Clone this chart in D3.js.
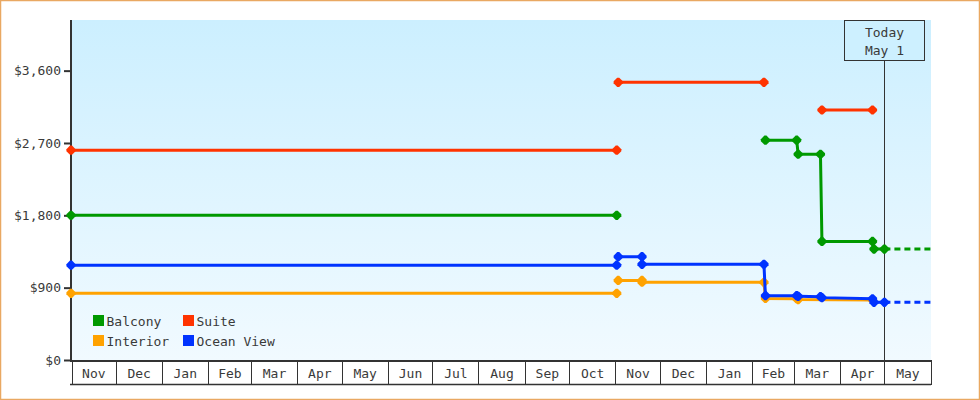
<!DOCTYPE html>
<html>
<head>
<meta charset="utf-8">
<script src="https://cdn.jsdelivr.net/npm/d3@7"></script>
<style>
  html, body { margin: 0; padding: 0; background: #fff; }
  svg { display: block; }
  text { font-family: "DejaVu Sans Mono", monospace; font-size: 13px; fill: #3a3a3a; }
</style>
</head>
<body>
<svg id="chart" width="980" height="400"></svg>
<script>
// ---------- data ----------
const axisStart = "2023-11-01";
const axisEnd   = "2025-06-01";
const todayDate = "2025-05-01";
const todayLabel = ["Today", "May 1"];
const monthLabels = ["Nov","Dec","Jan","Feb","Mar","Apr","May","Jun","Jul","Aug","Sep","Oct",
                     "Nov","Dec","Jan","Feb","Mar","Apr","May"];
const yTicks = [0, 900, 1800, 2700, 3600];
const yMax = 4230;

const seriesNames = ["Balcony", "Interior", "Ocean View", "Suite"];
const seriesColors = ["#009900", "#ffa200", "#0033ff", "#ff3300"];
const legendOrder = ["Balcony", "Interior", "Suite", "Ocean View"];

// [date, price]; a null price breaks the line
const balcony = [
  ["2023-11-01", 1800], ["2024-11-02", 1800], ["2024-11-03", null],
  ["2025-02-10", 2735], ["2025-03-03", 2735], ["2025-03-04", 2560], ["2025-03-19", 2560],
  ["2025-03-20", 1475], ["2025-04-23", 1475], ["2025-04-24", 1380], ["2025-05-01", 1380]
];
const interior = [
  ["2023-11-01", 830], ["2024-11-02", 830], ["2024-11-02", null],
  ["2024-11-03", 990], ["2024-11-19", 990], ["2024-11-19", 968], ["2025-02-09", 966],
  ["2025-02-10", 766], ["2025-03-03", 762], ["2025-03-04", 752], ["2025-04-23", 748]
];
const oceanView = [
  ["2023-11-01", 1180], ["2024-11-02", 1180], ["2024-11-02", null],
  ["2024-11-03", 1285], ["2024-11-19", 1285], ["2024-11-19", 1190], ["2025-02-09", 1190],
  ["2025-02-10", 800], ["2025-03-03", 800], ["2025-03-04", 792], ["2025-03-19", 788],
  ["2025-03-20", 776], ["2025-04-23", 762], ["2025-04-24", 718], ["2025-05-01", 718]
];
const suite = [
  ["2023-11-01", 2610], ["2024-11-02", 2610], ["2024-11-02", null],
  ["2024-11-03", 3455], ["2025-02-09", 3455], ["2025-02-10", null],
  ["2025-03-20", 3110], ["2025-04-23", 3110]
];
const seriesData = [balcony, interior, oceanView, suite];

// projected (dashed) prices after today
const projected = [1380, null, 718, null];

// ---------- drawing ----------
const parse = d3.utcParse("%Y-%m-%d");
const svg = d3.select("#chart");
const plot = { left: 72, right: 931, top: 20, bottom: 360 };

const x = d3.scaleUtc().domain([parse(axisStart), parse(axisEnd)]).range([71, 930.5]);
const y = d3.scaleLinear().domain([0, yMax]).range([plot.bottom, plot.top]);

// outer border
svg.append("rect").attr("x", 0.5).attr("y", 0.5).attr("width", 979).attr("height", 399)
  .attr("fill", "#fff").attr("stroke", "#e9a862").attr("stroke-width", 1.5);

// gradient background
const defs = svg.append("defs");
const grad = defs.append("linearGradient").attr("id", "bg").attr("x1", 0).attr("y1", 0).attr("x2", 0).attr("y2", 1);
grad.append("stop").attr("offset", "0%").attr("stop-color", "#ccefff");
grad.append("stop").attr("offset", "100%").attr("stop-color", "#f1faff");
svg.append("rect").attr("x", plot.left).attr("y", plot.top)
  .attr("width", plot.right - plot.left).attr("height", plot.bottom - plot.top)
  .attr("fill", "url(#bg)");

// x axis: month cells
const monthStarts = d3.utcMonth.range(parse(axisStart), parse(axisEnd));
const xAxisG = svg.append("g");
xAxisG.append("line").attr("x1", 70).attr("x2", plot.right).attr("y1", 384.5).attr("y2", 384.5)
  .attr("stroke", "#333").attr("stroke-width", 1.5);
const bounds = monthStarts.concat([parse(axisEnd)]);
xAxisG.selectAll("line.sep").data(bounds).join("line").attr("class", "sep")
  .attr("x1", (d, i) => i === 0 ? 72.5 : Math.round(x(d)) + 0.5)
  .attr("x2", (d, i) => i === 0 ? 72.5 : Math.round(x(d)) + 0.5)
  .attr("y1", plot.bottom).attr("y2", 385)
  .attr("stroke", "#333").attr("stroke-width", 1);
xAxisG.selectAll("text").data(monthStarts).join("text")
  .attr("x", (d, i) => (x(d) + x(bounds[i + 1])) / 2 + 0.5)
  .attr("y", 377.5)
  .attr("text-anchor", "middle")
  .text((d, i) => monthLabels[i]);
xAxisG.append("line").attr("x1", 70).attr("x2", plot.right).attr("y1", 361).attr("y2", 361)
  .attr("stroke", "#333").attr("stroke-width", 2);

// y axis
const yAxisG = svg.append("g").attr("transform", "translate(71,0)")
  .call(d3.axisLeft(y).tickValues(yTicks).tickSize(7).tickPadding(3)
    .tickFormat(d => "$" + d3.format(",")(d)));
yAxisG.select(".domain").remove();
yAxisG.selectAll(".tick line").attr("stroke", "#333").attr("stroke-width", 2);
yAxisG.selectAll(".tick text").attr("font-family", null).attr("font-size", null).attr("fill", "#3a3a3a");
svg.append("line").attr("x1", 71).attr("x2", 71).attr("y1", plot.top).attr("y2", 362)
  .attr("stroke", "#333").attr("stroke-width", 2);

// today marker
const tx = Math.round(x(parse(todayDate))) + 0.5;
svg.append("line").attr("x1", tx).attr("x2", tx).attr("y1", 61).attr("y2", plot.bottom)
  .attr("stroke", "#333").attr("stroke-width", 1);
svg.append("rect").attr("x", tx - 40).attr("y", 20.5).attr("width", 80).attr("height", 40)
  .attr("fill", "#cdf0ff").attr("stroke", "#333").attr("stroke-width", 1);
svg.append("text").attr("x", tx).attr("y", 37).attr("text-anchor", "middle").text(todayLabel[0]);
svg.append("text").attr("x", tx).attr("y", 55).attr("text-anchor", "middle").text(todayLabel[1]);

// series
const line = d3.line()
  .defined(d => d[1] != null)
  .x(d => x(parse(d[0])))
  .y(d => y(d[1]));
const marker = "M-4.6,-1L-1,-4.6L1,-4.6L4.6,-1L4.6,1L1,4.6L-1,4.6L-4.6,1Z";

seriesData.forEach((data, i) => {
  const g = svg.append("g");
  if (projected[i] != null) {
    g.append("line")
      .attr("x1", x(parse(todayDate))).attr("x2", x(parse(axisEnd)))
      .attr("y1", y(projected[i])).attr("y2", y(projected[i]))
      .attr("stroke", seriesColors[i]).attr("stroke-width", 3)
      .attr("stroke-dasharray", "6,4");
  }
  g.append("path").datum(data).attr("d", line)
    .attr("fill", "none").attr("stroke", seriesColors[i]).attr("stroke-width", 3);
  g.selectAll("path.pt").data(data.filter(d => d[1] != null)).join("path").attr("class", "pt")
    .attr("d", marker)
    .attr("transform", d => `translate(${x(parse(d[0]))},${y(d[1])})`)
    .attr("fill", seriesColors[i]);
});

// legend (column-major, 2 rows)
const legend = svg.append("g");
legendOrder.forEach((name, i) => {
  const color = seriesColors[seriesNames.indexOf(name)];
  const col = Math.floor(i / 2), row = i % 2;
  const lx = 93 + col * 90, ly = 315 + row * 20;
  legend.append("rect").attr("x", lx).attr("y", ly).attr("width", 11).attr("height", 11)
    .attr("fill", color);
  legend.append("text").attr("x", lx + 13.5).attr("y", ly + 10.5).text(name);
});
</script>
</body>
</html>
